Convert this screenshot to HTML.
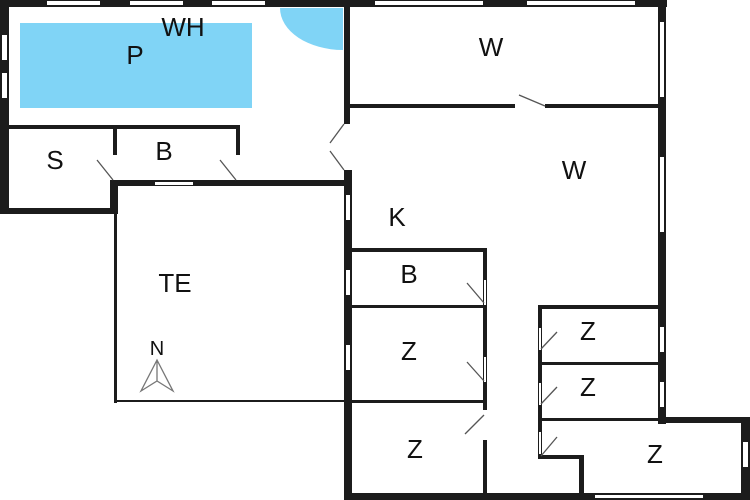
<!DOCTYPE html>
<html><head><style>
html,body{margin:0;padding:0;background:#fff;}
svg{display:block;}
text{font-family:"Liberation Sans",sans-serif;font-size:26px;fill:#111;text-anchor:middle;}
</style></head><body>
<svg width="750" height="500" viewBox="0 0 750 500" xmlns="http://www.w3.org/2000/svg">
<rect width="750" height="500" fill="#fff"/>
<rect x="20" y="23" width="232" height="85" fill="#80d4f6"/>
<path d="M280 8 L343 8 L343 50 A63 42 0 0 1 280 8 Z" fill="#80d4f6"/>
<g fill="#1c1c1c">
<rect x="0" y="0" width="667" height="7"/>
<rect x="0" y="0" width="9" height="214"/>
<rect x="0" y="208" width="118" height="6"/>
<rect x="110" y="180" width="8" height="34"/>
<rect x="110" y="180" width="242" height="6"/>
<rect x="9" y="125" width="231" height="4"/>
<rect x="113" y="125" width="4" height="30"/>
<rect x="236" y="125" width="4" height="30"/>
<rect x="344" y="0" width="6" height="124"/>
<rect x="344" y="170" width="8" height="330"/>
<rect x="658" y="0" width="8" height="424"/>
<rect x="350" y="104" width="165" height="4"/>
<rect x="545" y="104" width="113" height="4"/>
<rect x="352" y="248" width="135" height="4"/>
<rect x="483" y="248" width="4" height="162"/>
<rect x="483" y="440" width="4" height="55"/>
<rect x="352" y="305" width="135" height="3"/>
<rect x="352" y="400" width="135" height="3"/>
<rect x="538" y="305" width="120" height="4"/>
<rect x="538" y="305" width="4" height="154"/>
<rect x="538" y="362" width="120" height="3"/>
<rect x="538" y="418" width="120" height="3"/>
<rect x="538" y="455" width="45" height="4"/>
<rect x="579" y="455" width="5" height="45"/>
<rect x="658" y="417" width="92" height="6"/>
<rect x="741" y="417" width="9" height="83"/>
<rect x="344" y="493" width="406" height="7"/>
<rect x="114" y="186" width="3" height="217"/>
<rect x="114" y="400" width="232" height="2"/>
</g>
<g fill="#fff">
<rect x="47" y="1" width="53" height="4"/><rect x="130" y="1" width="53" height="4"/><rect x="212" y="1" width="53" height="4"/>
<rect x="375" y="1" width="108" height="4"/><rect x="527" y="1" width="108" height="4"/>
<rect x="2" y="35" width="5" height="25"/><rect x="2" y="73" width="5" height="25"/>
<rect x="660" y="22" width="4" height="75"/><rect x="660" y="157" width="4" height="75"/>
<rect x="660" y="327" width="4" height="25"/><rect x="660" y="382" width="4" height="25"/>
<rect x="346" y="195" width="4" height="25"/><rect x="346" y="270" width="4" height="25"/><rect x="346" y="345" width="4" height="25"/>
<rect x="155" y="182" width="38" height="3"/>
<rect x="113" y="155" width="4" height="25"/><rect x="236" y="155" width="4" height="25"/>
<rect x="484" y="280" width="2" height="25"/><rect x="484" y="357" width="2" height="25"/>
<rect x="539" y="328" width="2" height="22"/><rect x="539" y="383" width="2" height="22"/><rect x="539" y="432" width="2" height="22"/>
<rect x="743" y="442" width="5" height="25"/>
<rect x="595" y="495" width="108" height="3"/>
<rect x="515" y="105" width="30" height="2"/>
</g>
<g stroke="#555" stroke-width="1.3" fill="none">
<line x1="97" y1="160" x2="113" y2="180"/>
<line x1="220" y1="160" x2="236" y2="180"/>
<line x1="344" y1="124" x2="330" y2="143"/>
<line x1="344" y1="170" x2="330" y2="151"/>
<line x1="519" y1="95" x2="545" y2="106"/>
<line x1="467" y1="283" x2="484" y2="303"/>
<line x1="467" y1="362" x2="484" y2="381"/>
<line x1="484" y1="415" x2="465" y2="434"/>
<line x1="541" y1="349" x2="557" y2="332"/>
<line x1="541" y1="404" x2="557" y2="387"/>
<line x1="541" y1="456" x2="557" y2="437"/>
<path d="M157 360 L141 391 L157 381 L173 391 Z M157 360 L157 381" stroke="#777"/>
</g>
<text x="183" y="36">WH</text>
<text x="135" y="64">P</text>
<text x="55" y="169">S</text>
<text x="164" y="160">B</text>
<text x="491" y="56">W</text>
<text x="574" y="179">W</text>
<text x="397" y="226">K</text>
<text x="175" y="292">TE</text>
<text x="157" y="355" style="font-size:20px">N</text>
<text x="409" y="283">B</text>
<text x="409" y="360">Z</text>
<text x="588" y="340">Z</text>
<text x="588" y="396">Z</text>
<text x="415" y="458">Z</text>
<text x="655" y="463">Z</text>
</svg>
</body></html>
